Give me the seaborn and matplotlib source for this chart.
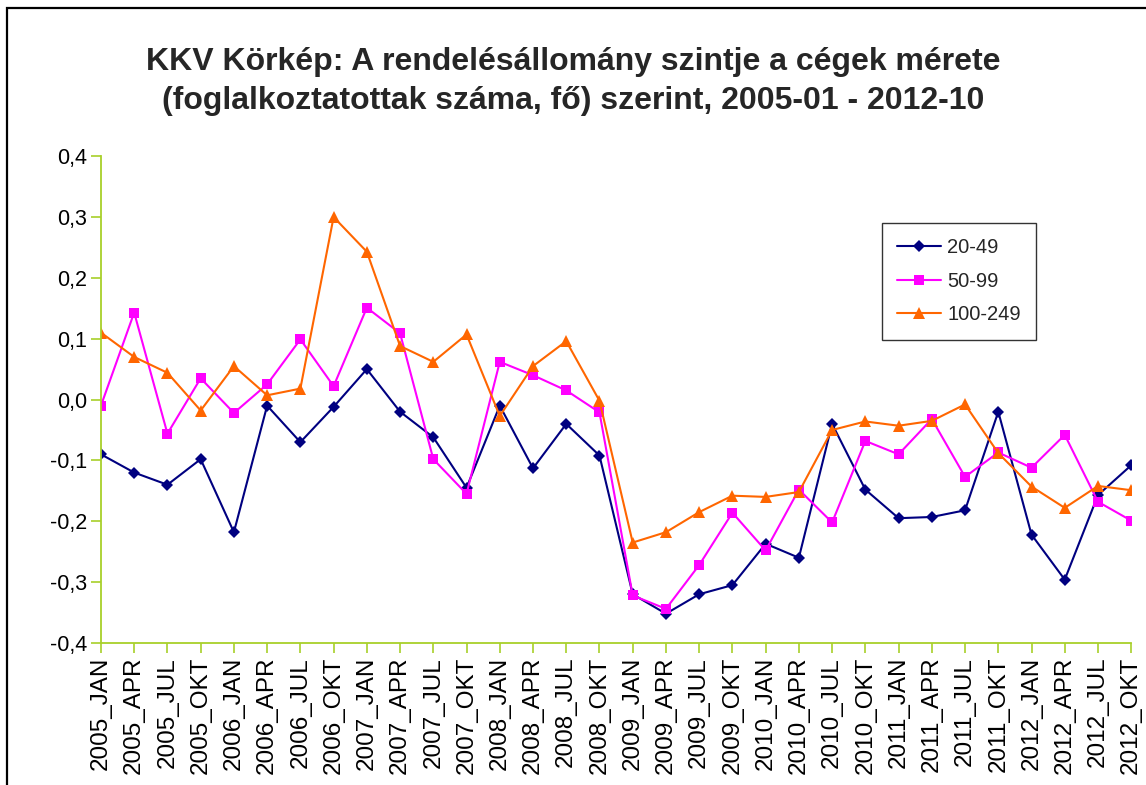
import matplotlib
matplotlib.use('Agg')
import matplotlib.pyplot as plt
import matplotlib.patches as mpatches
import numpy as np
import pandas as pd
import seaborn as sns

# quarterly periods, 2005_JAN .. 2012_OKT
years = [str(y) for y in range(2005, 2013)]
quarters = ['JAN', 'APR', 'JUL', 'OKT']
periods = [f'{y}_{q}' for y in years for q in quarters]

s_20_49 = [-0.090, -0.120, -0.140, -0.098, -0.218, -0.010, -0.070, -0.012,
           0.050, -0.020, -0.062, -0.145, -0.010, -0.113, -0.040, -0.092,
           -0.320, -0.352, -0.320, -0.305, -0.237, -0.260, -0.040, -0.148,
           -0.195, -0.193, -0.182, -0.020, -0.222, -0.296, -0.157, -0.108]
s_50_99 = [-0.010, 0.143, -0.056, 0.035, -0.022, 0.025, 0.099, 0.022,
           0.151, 0.109, -0.098, -0.155, 0.062, 0.040, 0.015, -0.021,
           -0.322, -0.344, -0.272, -0.186, -0.248, -0.148, -0.202, -0.068,
           -0.090, -0.032, -0.127, -0.087, -0.112, -0.058, -0.168, -0.199]
s_100_249 = [0.110, 0.070, 0.044, -0.018, 0.055, 0.007, 0.018, 0.300,
             0.243, 0.088, 0.062, 0.107, -0.027, 0.055, 0.096, -0.002,
             -0.235, -0.218, -0.185, -0.158, -0.160, -0.152, -0.050, -0.036,
             -0.043, -0.035, -0.008, -0.088, -0.143, -0.178, -0.142, -0.149]

groups = ['20-49', '50-99', '100-249']
title = ('KKV Körkép: A rendelésállomány szintje a cégek mérete\n'
         '(foglalkoztatottak száma, fő) szerint, 2005-01 - 2012-10')

df = pd.DataFrame({'idx': np.arange(len(periods)), 'period': periods,
                   '20-49': s_20_49, '50-99': s_50_99, '100-249': s_100_249})
long_df = df.melt(id_vars=['idx', 'period'], value_vars=groups,
                  var_name='group', value_name='value')

sns.set_style('white')
plt.rcParams['font.family'] = ['Liberation Sans', 'DejaVu Sans']

palette = {'20-49': '#000080', '50-99': '#FF00FF', '100-249': '#FF6600'}
markers = {'20-49': 'D', '50-99': 's', '100-249': '^'}
msizes = {'20-49': 6.5, '50-99': 7.5, '100-249': 9}

fig = plt.figure(figsize=(11.46, 7.85), dpi=100)
ax = fig.add_axes([0.0881, 0.181, 0.899, 0.620])

sns.lineplot(data=long_df, x='idx', y='value', hue='group', style='group',
             hue_order=groups, style_order=groups, palette=palette,
             markers=markers, dashes=False, linewidth=1.5, ax=ax,
             markeredgewidth=0, legend='full')
# marker sizes differ per series
for line, g in zip(ax.get_lines(), groups):
    line.set_markersize(msizes[g])

ax.set_xlim(0, len(periods) - 1)
ax.set_ylim(-0.4, 0.4)
ax.set_xticks(df['idx'])
ax.set_xticklabels(periods, rotation=90, fontsize=17.5)
yt = np.arange(-0.4, 0.41, 0.1)
ax.set_yticks(yt)
ax.set_yticklabels([f'{v:.1f}'.replace('.', ',').replace('-0,0', '0,0') for v in yt],
                   fontsize=15.5)
ax.set_xlabel('')
ax.set_ylabel('')

axis_col = '#A8D02A'
for side in ['top', 'right']:
    ax.spines[side].set_visible(False)
for side in ['left', 'bottom']:
    ax.spines[side].set_color(axis_col)
    ax.spines[side].set_linewidth(1.3)
ax.tick_params(axis='both', which='both', direction='out', length=7,
               width=1.2, color=axis_col, labelcolor='black', pad=3,
               bottom=True, left=True)

handles, labels = ax.get_legend_handles_labels()
for h, g in zip(handles, labels):
    h.set_markersize(msizes.get(g, 7))
leg = ax.legend(handles, labels, loc='upper left',
                bbox_to_anchor=(0.758, 0.862), fontsize=14.5, frameon=True,
                fancybox=False, edgecolor='black', handlelength=2.2,
                handletextpad=0.3, borderpad=0.75, labelspacing=0.72,
                borderaxespad=0)
leg.get_frame().set_linewidth(1.0)

fig.suptitle(title, fontsize=23, fontweight='bold', y=0.94, linespacing=1.4)

# outer chart frame
fig.add_artist(mpatches.Rectangle((7 / 1146, -0.01), 1.1, 1 - 8 / 785 + 0.01,
                                  transform=fig.transFigure, fill=False,
                                  edgecolor='black', linewidth=1.6))

fig.savefig('out.png', dpi=100)
